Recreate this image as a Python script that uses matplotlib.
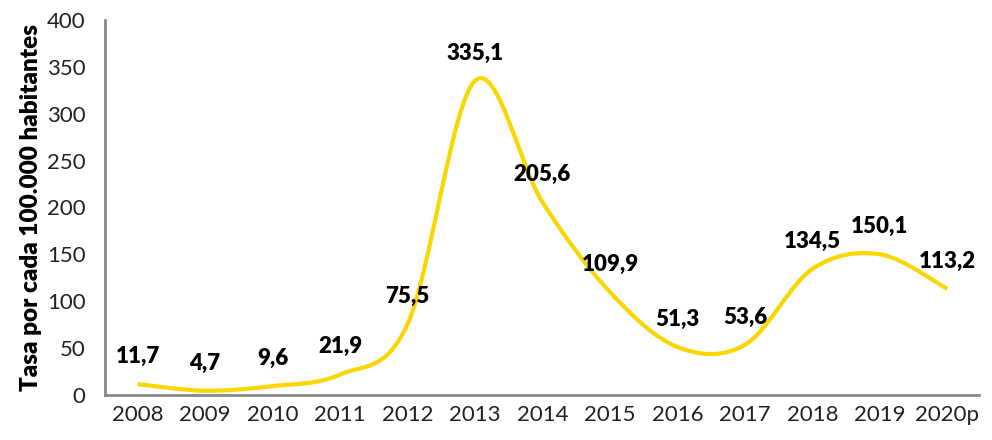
import matplotlib
matplotlib.use('Agg')
import matplotlib.pyplot as plt
from matplotlib.path import Path
from matplotlib.patches import PathPatch
import numpy as np

years = ['2008', '2009', '2010', '2011', '2012', '2013', '2014', '2015', '2016', '2017', '2018', '2019', '2020p']
tasa = [11.7, 4.7, 9.6, 21.9, 75.5, 335.1, 205.6, 109.9, 51.3, 53.6, 134.5, 150.1, 113.2]
etiquetas = ['11,7', '4,7', '9,6', '21,9', '75,5', '335,1', '205,6', '109,9', '51,3', '53,6', '134,5', '150,1', '113,2']

plt.rcParams['font.family'] = ['Lato', 'DejaVu Sans']

fig = plt.figure(figsize=(9.92, 4.4), dpi=100)
ax = fig.add_axes([0.106, 0.102, 0.881, 0.853])

# curva suavizada tipo excel (bezier a partir de los puntos)
x = np.arange(len(tasa), dtype=float)
y = np.array(tasa)
verts = [(x[0], y[0])]
codes = [Path.MOVETO]
n = len(x)
for i in range(n - 1):
    x0, y0 = (x[i - 1], y[i - 1]) if i > 0 else (x[i], y[i])
    x3, y3 = (x[i + 2], y[i + 2]) if i + 2 < n else (x[i + 1], y[i + 1])
    c1 = (x[i] + (x[i + 1] - x0) / 6, y[i] + (y[i + 1] - y0) / 6)
    c2 = (x[i + 1] - (x3 - x[i]) / 6, y[i + 1] - (y3 - y[i]) / 6)
    verts += [c1, c2, (x[i + 1], y[i + 1])]
    codes += [Path.CURVE4] * 3
ax.add_patch(PathPatch(Path(verts, codes), facecolor='none', edgecolor='#FAD700', lw=3, capstyle='butt'))

for i, t in enumerate(etiquetas):
    ax.annotate(t, (i, tasa[i]), xytext=(0, 20), textcoords='offset points',
                ha='center', va='center', fontsize=16, fontweight='heavy', color='black')

ax.set_xlim(-0.48, 12.47)
ax.set_ylim(0, 400)
ax.set_yticks(range(0, 401, 50))
ax.set_xticks(x)
ax.set_xticklabels(years)
ax.tick_params(length=0, labelsize=16, colors='#222222', pad=7)
ax.tick_params(axis='y', pad=14)
for s in ['top', 'right']:
    ax.spines[s].set_visible(False)
for s in ['left', 'bottom']:
    ax.spines[s].set_color('#888888')
    ax.spines[s].set_linewidth(2)
ax.set_ylabel('Tasa por cada 100.000 habitantes', fontsize=17.5, fontweight='heavy', labelpad=4)

fig.savefig('out.png', dpi=100)
